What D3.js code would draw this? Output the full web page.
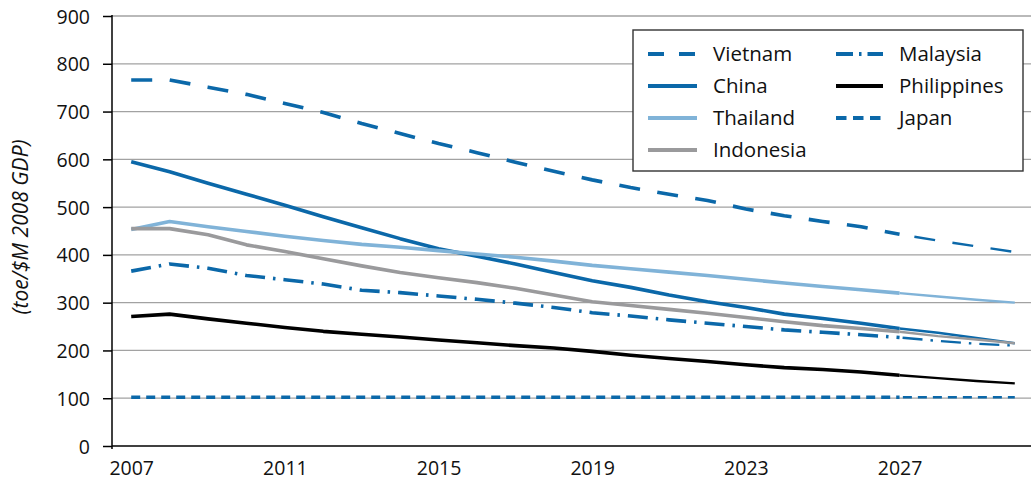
<!DOCTYPE html>
<html>
<head>
<meta charset="utf-8">
<script src="https://cdn.jsdelivr.net/npm/d3@7/dist/d3.min.js"></script>
<style>
  html, body { margin: 0; padding: 0; background: #fff; }
  svg { display: block; }
  text { font-family: "Open Sans", "Noto Sans", sans-serif; fill: #111; }
</style>
</head>
<body>
<svg id="chart" width="1034" height="482"></svg>
<script>
// ---------- data ----------
const years = [2007, 2008, 2009, 2010, 2011, 2012, 2013, 2014, 2015, 2016, 2017, 2018,
               2019, 2020, 2021, 2022, 2023, 2024, 2025, 2026, 2027, 2028, 2029, 2030];
const xTickYears = [2007, 2011, 2015, 2019, 2023, 2027];
const yTicks = [0, 100, 200, 300, 400, 500, 600, 700, 800, 900];

const vietnam     = [766, 766, 751, 736, 717, 698, 675, 654, 633, 614, 594, 575, 557, 541, 527, 514, 496, 482, 470, 459, 443, 430, 418, 406];
const china       = [595, 574, 550, 527, 504, 480, 457, 434, 413, 397, 381, 363, 346, 332, 316, 302, 290, 276, 267, 257, 246, 237, 226, 215];
const thailand    = [453, 470, 459, 449, 439, 430, 422, 416, 409, 402, 395, 387, 378, 371, 364, 357, 349, 341, 334, 327, 320, 313, 306, 300];
const indonesia   = [455, 455, 442, 421, 407, 392, 377, 363, 352, 342, 330, 316, 302, 294, 286, 278, 269, 260, 252, 246, 239, 230, 223, 215];
const malaysia    = [366, 381, 372, 357, 348, 339, 326, 321, 314, 307, 299, 290, 279, 272, 264, 257, 250, 243, 238, 233, 227, 220, 214, 210];
const philippines = [271, 276, 266, 257, 248, 240, 234, 228, 222, 216, 210, 205, 198, 190, 183, 177, 170, 164, 160, 155, 148, 142, 136, 131];
const japan       = [102, 102, 102, 102, 102, 102, 102, 102, 102, 102, 102, 102, 102, 102, 102, 102, 102, 102, 102, 102, 102, 102, 102, 102];

const seriesNames = ["Vietnam", "China", "Thailand", "Indonesia", "Malaysia", "Philippines", "Japan"];
const seriesValues = [vietnam, china, thailand, indonesia, malaysia, philippines, japan];

// ---------- styles ----------
const DARK = "#0b68a9", LIGHT = "#80b3d8", GREY = "#9a9a9c", BLACK = "#000000";
const styles = {
  "Vietnam":     { color: DARK,  dash: "21,17.5", legendDash: "16,15" },
  "China":       { color: DARK,  dash: null,      legendDash: null },
  "Thailand":    { color: LIGHT, dash: null,      legendDash: null },
  "Indonesia":   { color: GREY,  dash: null,      legendDash: null },
  "Malaysia":    { color: DARK,  dash: "20,8,2.5,8", legendDash: "17,6,2.5,6" },
  "Philippines": { color: BLACK, dash: null,      legendDash: null },
  "Japan":       { color: DARK,  dash: "9,6",     legendDash: "10.5,6.5" }
};

// ---------- layout ----------
const svg = d3.select("#chart");
const mLeft = 112, mRight = 1034, mTop = 16, mBottom = 446;

const x = d3.scalePoint().domain(years).range([mLeft, mRight]).padding(0.5);
const y = d3.scaleLinear().domain([0, 900]).range([mBottom, mTop]);

// gridlines
svg.append("g").selectAll("line").data(yTicks.filter(d => d > 0)).join("line")
  .attr("x1", mLeft).attr("x2", 1031)
  .attr("y1", d => y(d)).attr("y2", d => y(d))
  .attr("stroke", "#a2a2a2").attr("stroke-width", 1.3);

// y axis
const yAxis = d3.axisLeft(y).tickValues(yTicks).tickSize(9).tickPadding(13);
const gy = svg.append("g").attr("transform", `translate(${mLeft},0)`).call(yAxis);
gy.select(".domain").remove();
gy.selectAll(".tick line").attr("stroke", "#000").attr("stroke-width", 1.5);
gy.selectAll(".tick text").attr("font-size", 19.5).attr("fill", "#111")
  .attr("font-family", "'Open Sans', sans-serif").attr("dy", "0.36em");
svg.append("line").attr("x1", mLeft).attr("x2", mLeft).attr("y1", mTop - 1).attr("y2", mBottom + 3)
  .attr("stroke", "#000").attr("stroke-width", 1.5);

// x axis
svg.append("line").attr("x1", mLeft).attr("x2", 1031).attr("y1", mBottom).attr("y2", mBottom)
  .attr("stroke", "#000").attr("stroke-width", 1.5);
const xAxis = d3.axisBottom(x).tickValues(xTickYears).tickSize(0).tickPadding(15).tickFormat(d3.format("d"));
const gx = svg.append("g").attr("transform", `translate(0,${mBottom})`).call(xAxis);
gx.select(".domain").remove();
gx.selectAll(".tick text").attr("font-size", 19.5).attr("fill", "#111")
  .attr("font-family", "'Open Sans', sans-serif");

// y title
svg.append("text")
  .attr("transform", `translate(28,227) rotate(-90)`)
  .attr("text-anchor", "middle")
  .attr("font-size", 21).attr("font-style", "italic").attr("fill", "#222")
  .text("(toe/$M 2008 GDP)");

// lines
const line = d3.line().x(d => x(d.year)).y(d => y(d.value));
const splitIdx = years.indexOf(2027);
seriesNames.forEach((name, i) => {
  const pts = years.map((yr, j) => ({ year: yr, value: seriesValues[i][j] }));
  const st = styles[name];
  const p1 = svg.append("path").datum(pts.slice(0, splitIdx + 1))
    .attr("d", line).attr("fill", "none")
    .attr("stroke", st.color).attr("stroke-width", 3.6)
    .attr("stroke-linejoin", "round");
  if (st.dash) p1.attr("stroke-dasharray", st.dash);
  const len = p1.node().getTotalLength();
  const p2 = svg.append("path").datum(pts.slice(splitIdx))
    .attr("d", line).attr("fill", "none")
    .attr("stroke", st.color).attr("stroke-width", 2.4)
    .attr("stroke-linejoin", "round");
  if (st.dash) p2.attr("stroke-dasharray", st.dash).attr("stroke-dashoffset", -len);
});

// legend
const lg = svg.append("g");
lg.append("rect").attr("x", 633).attr("y", 30).attr("width", 390).attr("height", 141)
  .attr("fill", "#fff").attr("stroke", "#333").attr("stroke-width", 1.4);
const legendPos = [
  { name: "Vietnam", col: 0, row: 0 }, { name: "China", col: 0, row: 1 },
  { name: "Thailand", col: 0, row: 2 }, { name: "Indonesia", col: 0, row: 3 },
  { name: "Malaysia", col: 1, row: 0 }, { name: "Philippines", col: 1, row: 1 },
  { name: "Japan", col: 1, row: 2 }
];
const colX = [648, 836], colW = [49, 47], textX = [713, 899];
legendPos.forEach(e => {
  const st = styles[e.name];
  const cy = 54 + e.row * 32;
  const l = lg.append("line").attr("x1", colX[e.col]).attr("x2", colX[e.col] + colW[e.col])
    .attr("y1", cy).attr("y2", cy).attr("stroke", st.color).attr("stroke-width", 4);
  if (st.legendDash) l.attr("stroke-dasharray", st.legendDash);
  lg.append("text").attr("x", textX[e.col]).attr("y", cy + 7)
    .attr("font-size", 20.5).attr("fill", "#111").text(e.name);
});
</script>
</body>
</html>
